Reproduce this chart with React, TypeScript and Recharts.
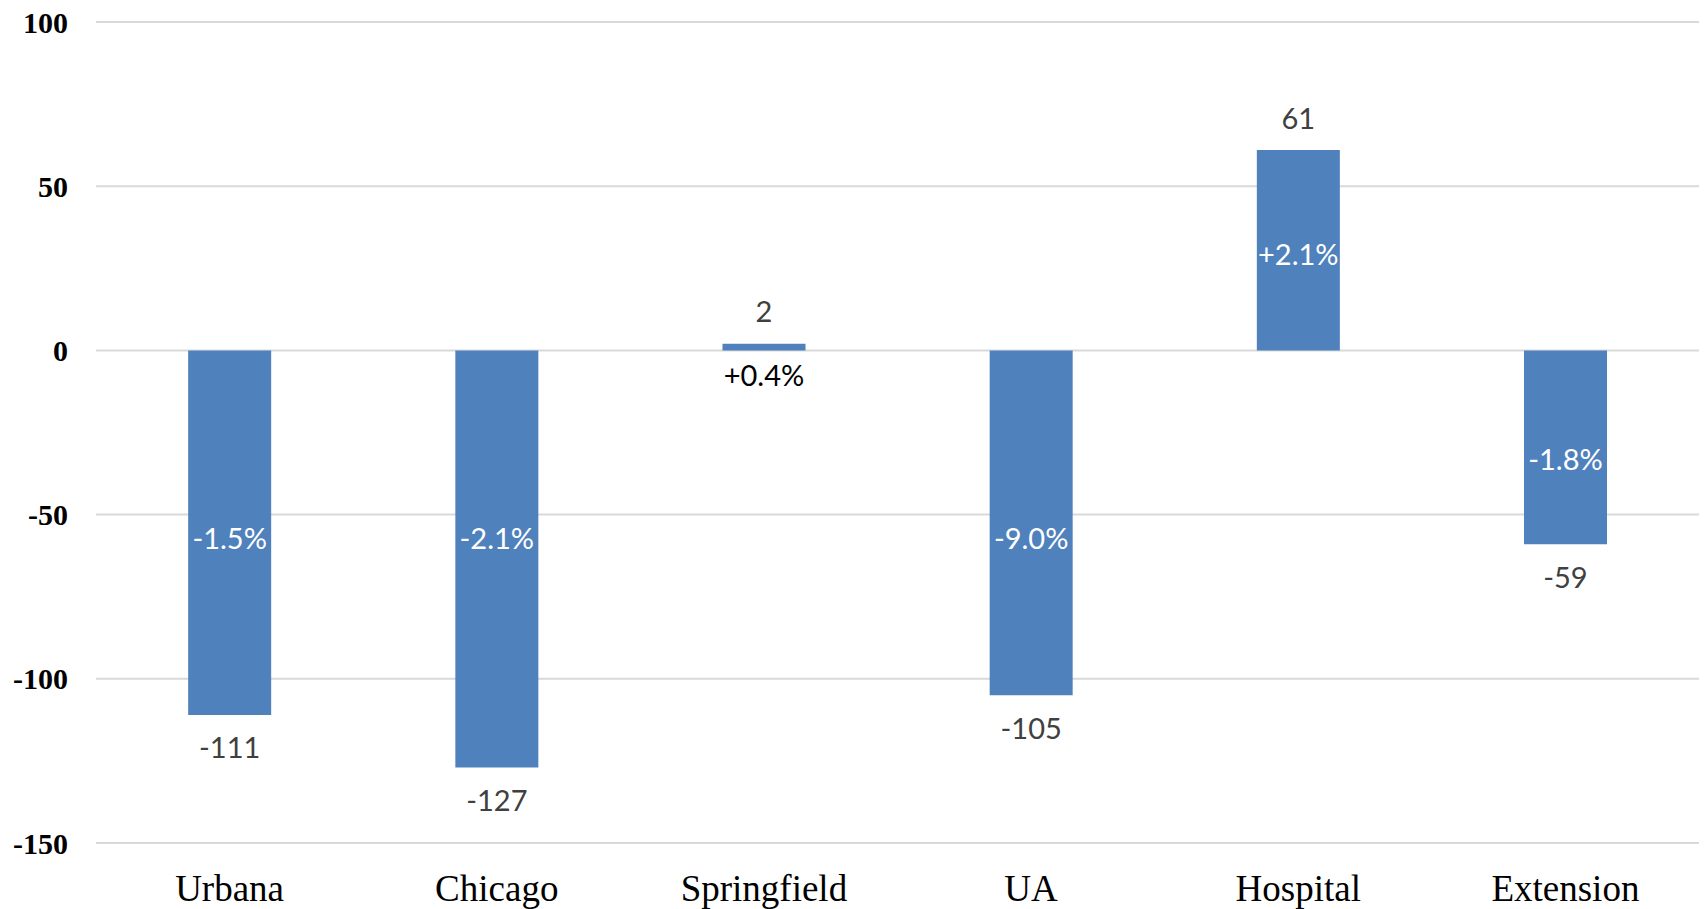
import { BarChart, Bar, XAxis, YAxis, CartesianGrid, LabelList } from "recharts";

const campuses = ["Urbana", "Chicago", "Springfield", "UA", "Hospital", "Extension"];
const changes = [-111, -127, 2, -105, 61, -59];
const pctChanges = ["-1.5%", "-2.1%", "+0.4%", "-9.0%", "+2.1%", "-1.8%"];
// where each percent label sits, in axis units
const pctLabelAt = [-57, -57, -7.3, -57, 29.5, -33];
const yTicks = [100, 50, 0, -50, -100, -150];

const data = campuses.map((c, i) => ({ campus: c, change: changes[i], pct: pctChanges[i] }));

const labelFont = "Lato, 'Open Sans', sans-serif";

function ValueLabel(props: any) {
  const { x, y, width, height, value } = props;
  const top = Math.min(y, y + height);
  const bottom = Math.max(y, y + height);
  const cy = value >= 0 ? top - 33 : bottom + 32;
  return (
    <text x={x + width / 2} y={cy} textAnchor="middle" dominantBaseline="central"
      fontFamily={labelFont} fontSize={29} fill="#404040">
      {value}
    </text>
  );
}

function PctLabel(props: any) {
  const { x, y, width, height, index } = props;
  const v = changes[index];
  const top = Math.min(y, y + height);
  const bottom = Math.max(y, y + height);
  const base = v >= 0 ? bottom : top;
  const end = v >= 0 ? top : bottom;
  const cy = base + (pctLabelAt[index] / v) * (end - base);
  const inside = cy >= top && cy <= bottom;
  return (
    <text x={x + width / 2} y={cy} textAnchor="middle" dominantBaseline="central"
      fontFamily={labelFont} fontSize={29} fill={inside ? "#ffffff" : "#000000"}>
      {pctChanges[index]}
    </text>
  );
}

export default function App() {
  return (
    <div style={{ position: "absolute", left: 0, top: 0, width: 1704, height: 909, background: "#fff" }}>
      <BarChart width={1704} height={909} data={data}
        margin={{ top: 22, right: 5, bottom: 0, left: 0 }} barCategoryGap="34.5%">
        <CartesianGrid vertical={false} stroke="#d9d9d9" strokeWidth={2} />
        <XAxis dataKey="campus" axisLine={false} tickLine={false} tickSize={0} tickMargin={32} height={66}
          tick={{ fontFamily: "'Liberation Serif', 'Times New Roman', serif", fontSize: 37, fill: "#000" }} />
        <YAxis domain={[-150, 100]} ticks={yTicks} width={96} axisLine={false} tickLine={false}
          tickSize={0} tickMargin={28}
          tick={{ fontFamily: "'Liberation Serif', 'Times New Roman', serif", fontSize: 30, fontWeight: "bold", fill: "#000" }} />
        <Bar dataKey="change" fill="#4f81bd" isAnimationActive={false}>
          <LabelList dataKey="change" content={ValueLabel} />
          <LabelList dataKey="pct" content={PctLabel} />
        </Bar>
      </BarChart>
    </div>
  );
}
